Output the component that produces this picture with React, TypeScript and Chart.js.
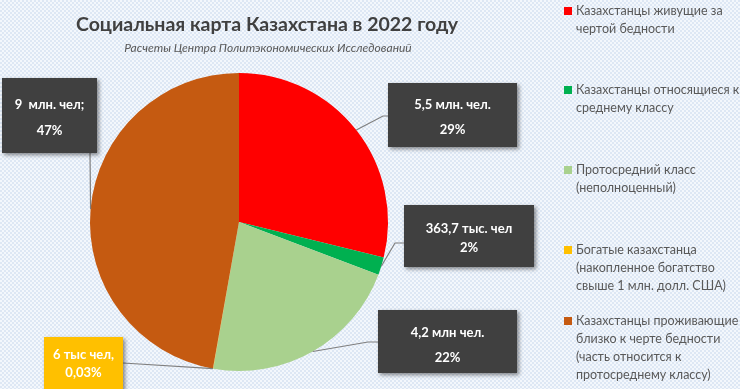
import { useEffect, useRef } from "react";
import { Chart, registerables } from "chart.js";

Chart.register(...registerables);

// ---- data ----
const categories: string[][] = [
  ["Казахстанцы живущие за", "чертой бедности"],
  ["Казахстанцы относящиеся к", "среднему классу"],
  ["Протосредний класс", "(неполноценный)"],
  ["Богатые казахстанца", "(накопленное богатство", "свыше 1 млн. долл. США)"],
  ["Казахстанцы проживающие", "близко к черте бедности", "(часть относится к", "протосреднему классу)"],
];
const peopleThousands: number[] = [5500, 363.7, 4200, 6, 9000];
const valueLabels: string[] = ["5,5 млн. чел.", "363,7 тыс. чел", "4,2 млн чел.", "6 тыс чел,", "9  млн. чел;"];
const percentLabels: string[] = ["29%", "2%", "22%", "0,03%", "47%"];
const colors: string[] = ["#ff0000", "#00b050", "#a9d18e", "#ffc000", "#c55a11"];
const boxColors: string[] = ["#404040", "#404040", "#404040", "#ffc000", "#404040"];

const title = "Социальная карта Казахстана в 2022 году";
const subtitle = "Расчеты Центра Политэкономических Исследований";

// ---- layout (label boxes: x, y, w, h, line1 offset, line2 offset; anchor & elbow) ----
const boxLayout = [
  { x: 388, y: 83, w: 129, h: 64, l1: 22, l2: 47, ax: 388, ay: 116, ex: 383, ey: 116 },
  { x: 404, y: 205, w: 130, h: 62, l1: 24, l2: 43, ax: 404, ay: 243, ex: 395, ey: 243 },
  { x: 378, y: 310, w: 139, h: 63, l1: 23, l2: 48, ax: 378, ay: 342, ex: 368, ey: 342 },
  { x: 44, y: 337, w: 79, h: 60, l1: 18, l2: 36, ax: 123, ay: 363, ex: 123, ey: 363 },
  { x: 2, y: 78, w: 95, h: 75, l1: 27, l2: 53, ax: 90, ay: 153, ex: 90, ey: 153 },
];
const legendItemTops = [11, 90, 170, 250, 321];

const FONT = "Lato, 'Open Sans', sans-serif";

const overlayPlugin = {
  id: "overlay",
  afterDatasetsDraw(chart: any) {
    const ctx: CanvasRenderingContext2D = chart.ctx;
    ctx.save();
    // title
    ctx.fillStyle = "#404040";
    ctx.textAlign = "center";
    ctx.textBaseline = "middle";
    ctx.font = `bold 19.5px ${FONT}`;
    ctx.fillText(title, 267, 25);
    ctx.font = `italic 12px ${FONT}`;
    ctx.fillStyle = "#595959";
    ctx.fillText(subtitle, 268, 48);

    // legend
    ctx.textAlign = "left";
    ctx.font = `12.5px ${FONT}`;
    categories.forEach((lines, i) => {
      const top = legendItemTops[i];
      ctx.fillStyle = colors[i];
      ctx.fillRect(564, top - 4, 8, 8);
      ctx.fillStyle = "#595959";
      lines.forEach((t, j) => ctx.fillText(t, 576, top + j * 18));
    });

    // leader lines + boxes
    const meta = chart.getDatasetMeta(0);
    meta.data.forEach((arc: any, i: number) => {
      const b = boxLayout[i];
      const mid = (arc.startAngle + arc.endAngle) / 2;
      const px = arc.x + Math.cos(mid) * arc.outerRadius;
      const py = arc.y + Math.sin(mid) * arc.outerRadius;
      ctx.strokeStyle = "#7f7f7f";
      ctx.lineWidth = 1.2;
      ctx.beginPath();
      ctx.moveTo(b.ax, b.ay);
      ctx.lineTo(b.ex, b.ey);
      ctx.lineTo(px, py);
      ctx.stroke();
    });
    meta.data.forEach((_arc: any, i: number) => {
      const b = boxLayout[i];
      ctx.save();
      ctx.shadowColor = "rgba(0,0,0,0.45)";
      ctx.shadowBlur = 4;
      ctx.shadowOffsetX = 2;
      ctx.shadowOffsetY = 2;
      ctx.fillStyle = boxColors[i];
      ctx.fillRect(b.x, b.y, b.w, b.h);
      ctx.restore();
      ctx.fillStyle = "#ffffff";
      ctx.textAlign = "center";
      ctx.font = `bold 13px ${FONT}`;
      ctx.fillText(valueLabels[i], b.x + b.w / 2, b.y + b.l1);
      ctx.fillText(percentLabels[i], b.x + b.w / 2, b.y + b.l2);
    });
    ctx.restore();
  },
};

export default function App() {
  const ref = useRef<HTMLCanvasElement>(null);
  useEffect(() => {
    if (!ref.current) return;
    const chart = new Chart(ref.current, {
      type: "pie",
      data: {
        labels: categories.map((c) => c.join(" ")),
        datasets: [
          {
            data: peopleThousands,
            backgroundColor: colors,
            borderWidth: 0,
          },
        ],
      },
      options: {
        responsive: false,
        animation: false,
        layout: { padding: { left: 90, top: 73, right: 352, bottom: 18 } },
        plugins: {
          legend: { display: false },
          tooltip: { enabled: false },
          title: { display: false },
        },
      },
      plugins: [overlayPlugin],
    });
    return () => chart.destroy();
  }, []);
  return (
    <div
      style={{
        position: "fixed",
        left: 0,
        top: 0,
        width: 740,
        height: 389,
        overflow: "hidden",
        background:
          "repeating-conic-gradient(#dde7f4 0% 25%, #f3f7fc 0% 50%) 0 0 / 4px 4px",
      }}
    >
      <canvas ref={ref} width={740} height={389} />
    </div>
  );
}
